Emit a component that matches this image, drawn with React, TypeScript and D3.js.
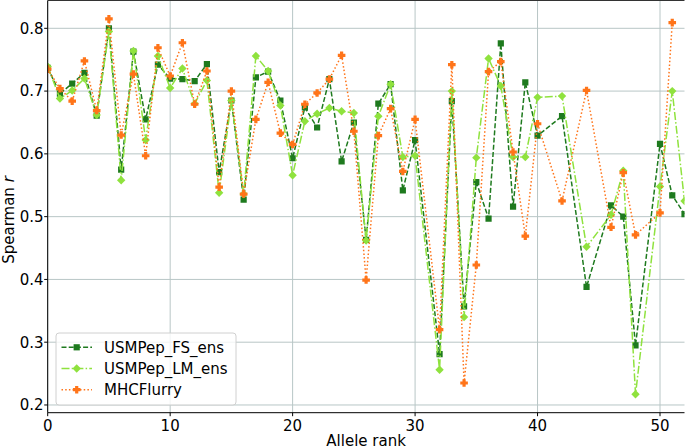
import React from 'react';
import * as d3 from 'd3';

// allele ranks with a value (31, 41, 43, 45, 49 have none)
const ranks = [0, 1, 2, 3, 4, 5, 6, 7, 8, 9, 10, 11, 12, 13, 14, 15, 16, 17, 18, 19, 20,
  21, 22, 23, 24, 25, 26, 27, 28, 29, 30, 32, 33, 34, 35, 36, 37, 38, 39, 40, 42, 44,
  46, 47, 48, 50, 51, 52];

const fsEns = [0.737, 0.696, 0.712, 0.729, 0.661, 0.800, 0.575, 0.763, 0.655, 0.742, 0.720,
  0.719, 0.716, 0.743, 0.571, 0.685, 0.527, 0.722, 0.731, 0.685, 0.593, 0.674, 0.642, 0.719,
  0.588, 0.650, 0.463, 0.680, 0.711, 0.542, 0.622, 0.281, 0.684, 0.357, 0.555, 0.497, 0.776,
  0.516, 0.714, 0.629, 0.660, 0.388, 0.518, 0.500, 0.295, 0.616, 0.534, 0.504];

const lmEns = [0.739, 0.688, 0.701, 0.720, 0.662, 0.795, 0.558, 0.764, 0.622, 0.756, 0.705,
  0.736, 0.680, 0.717, 0.538, 0.685, 0.536, 0.756, 0.732, 0.677, 0.566, 0.652, 0.664, 0.673,
  0.668, 0.665, 0.462, 0.660, 0.711, 0.595, 0.597, 0.256, 0.700, 0.340, 0.594, 0.752, 0.708,
  0.595, 0.595, 0.690, 0.692, 0.452, 0.503, 0.573, 0.217, 0.548, 0.700, 0.525];

// MHCFlurry stops at rank 51
const mhcFlurry = [0.735, 0.704, 0.684, 0.748, 0.669, 0.815, 0.630, 0.727, 0.597, 0.769, 0.724,
  0.777, 0.679, 0.732, 0.547, 0.700, 0.536, 0.655, 0.714, 0.633, 0.615, 0.679, 0.697, 0.719,
  0.757, 0.636, 0.399, 0.629, 0.672, 0.572, 0.655, 0.320, 0.742, 0.235, 0.423, 0.731, 0.747,
  0.603, 0.469, 0.648, 0.525, 0.701, 0.483, 0.570, 0.471, 0.506, 0.809];

const xTicks = [0, 10, 20, 30, 40, 50];
const yTicks = [0.2, 0.3, 0.4, 0.5, 0.6, 0.7, 0.8];

const W = 685;
const H = 448;
const left = 47.7;
const right = 684.5;
const top = 0.5;
const bottom = 412.7;
const font = 'DejaVu Sans, sans-serif';

const x = d3.scaleLinear().domain([0, 52]).range([left, right]);
const y = d3.scaleLinear().domain([0.1877, 0.8443]).range([bottom, top]);

type Pt = { r: number; v: number };

const series = [
  { name: 'USMPep_FS_ens', values: fsEns, color: '#1e7a1e', dash: '5,2.2', marker: 'square' },
  { name: 'USMPep_LM_ens', values: lmEns, color: '#8fe23e', dash: '8,2.2,1.5,2.2', marker: 'diamond' },
  { name: 'MHCFlurry', values: mhcFlurry, color: '#ff7419', dash: '1.5,2.2', marker: 'plus' },
];

const markerPath = (kind: string, cx: number, cy: number) => {
  if (kind === 'square') {
    const s = 3.1;
    return `M${cx - s},${cy - s}h${2 * s}v${2 * s}h${-2 * s}Z`;
  }
  if (kind === 'diamond') {
    const s = 4.2;
    return `M${cx},${cy - s}L${cx + s},${cy}L${cx},${cy + s}L${cx - s},${cy}Z`;
  }
  // filled plus ("P")
  const a = 3.8;
  const b = 1.6;
  return `M${cx - b},${cy - a}h${2 * b}v${a - b}h${a - b}v${2 * b}h${b - a}v${a - b}h${-2 * b}v${b - a}h${b - a}v${-2 * b}h${a - b}Z`;
};

export default function App() {
  React.useEffect(() => {
    document.body.style.margin = '0';
  }, []);

  const line = d3.line<Pt>().x(d => x(d.r)).y(d => y(d.v));

  return (
    <svg width={W} height={H} style={{ display: 'block', background: '#fff' }}>
      <defs>
        <clipPath id="plot">
          <rect x={left} y={top} width={right - left} height={bottom - top} />
        </clipPath>
      </defs>

      {/* grid */}
      {xTicks.map(t => (
        <line key={'gx' + t} x1={x(t)} x2={x(t)} y1={top} y2={bottom} stroke="#b8c6c6" strokeWidth={1} />
      ))}
      {yTicks.map(t => (
        <line key={'gy' + t} x1={left} x2={right} y1={y(t)} y2={y(t)} stroke="#b8c6c6" strokeWidth={1} />
      ))}

      {/* series */}
      <g clipPath="url(#plot)">
        {series.map(s => {
          const pts: Pt[] = s.values.map((v, i) => ({ r: ranks[i], v }));
          return (
            <g key={s.name}>
              <path d={line(pts) || ''} fill="none" stroke={s.color} strokeWidth={1.5} strokeDasharray={s.dash} />
              {pts.map(p => (
                <path key={p.r} d={markerPath(s.marker, x(p.r), y(p.v))} fill={s.color} />
              ))}
            </g>
          );
        })}
      </g>

      {/* spines */}
      <line x1={left} x2={left} y1={top} y2={bottom} stroke="#000" strokeWidth={1} />
      <line x1={left} x2={right} y1={bottom} y2={bottom} stroke="#000" strokeWidth={1} />
      <line x1={left} x2={right} y1={top} y2={top} stroke="#333" strokeWidth={1} />

      {/* x axis */}
      {xTicks.map(t => (
        <g key={'xt' + t}>
          <line x1={x(t)} x2={x(t)} y1={bottom} y2={bottom + 3.5} stroke="#000" />
          <text x={x(t)} y={431} textAnchor="middle" fontFamily={font} fontSize={15}>{t}</text>
        </g>
      ))}
      <text x={(left + right) / 2} y={445.5} textAnchor="middle" fontFamily={font} fontSize={15}>Allele rank</text>

      {/* y axis */}
      {yTicks.map(t => (
        <g key={'yt' + t}>
          <line x1={left - 3.5} x2={left} y1={y(t)} y2={y(t)} stroke="#000" />
          <text x={43.5} y={y(t) + 5.4} textAnchor="end" fontFamily={font} fontSize={15}>{d3.format('.1f')(t)}</text>
        </g>
      ))}
      <text transform="translate(14,220) rotate(-90)" textAnchor="middle" fontFamily={font} fontSize={15}>
        Spearman <tspan fontStyle="italic">r</tspan>
      </text>

      {/* legend */}
      <rect x={56} y={333} width={180} height={72} rx={3} fill="#fff" fillOpacity={0.8} stroke="#d0d0d0" />
      {series.map((s, i) => {
        const cy = 347.3 + i * 21.2;
        return (
          <g key={'lg' + s.name}>
            <line x1={61.5} x2={92} y1={cy} y2={cy} stroke={s.color} strokeWidth={1.5} strokeDasharray={s.dash} />
            <path d={markerPath(s.marker, 76.7, cy)} fill={s.color} />
            <text x={104} y={cy + 5.4} fontFamily={font} fontSize={15}>{s.name}</text>
          </g>
        );
      })}
    </svg>
  );
}
